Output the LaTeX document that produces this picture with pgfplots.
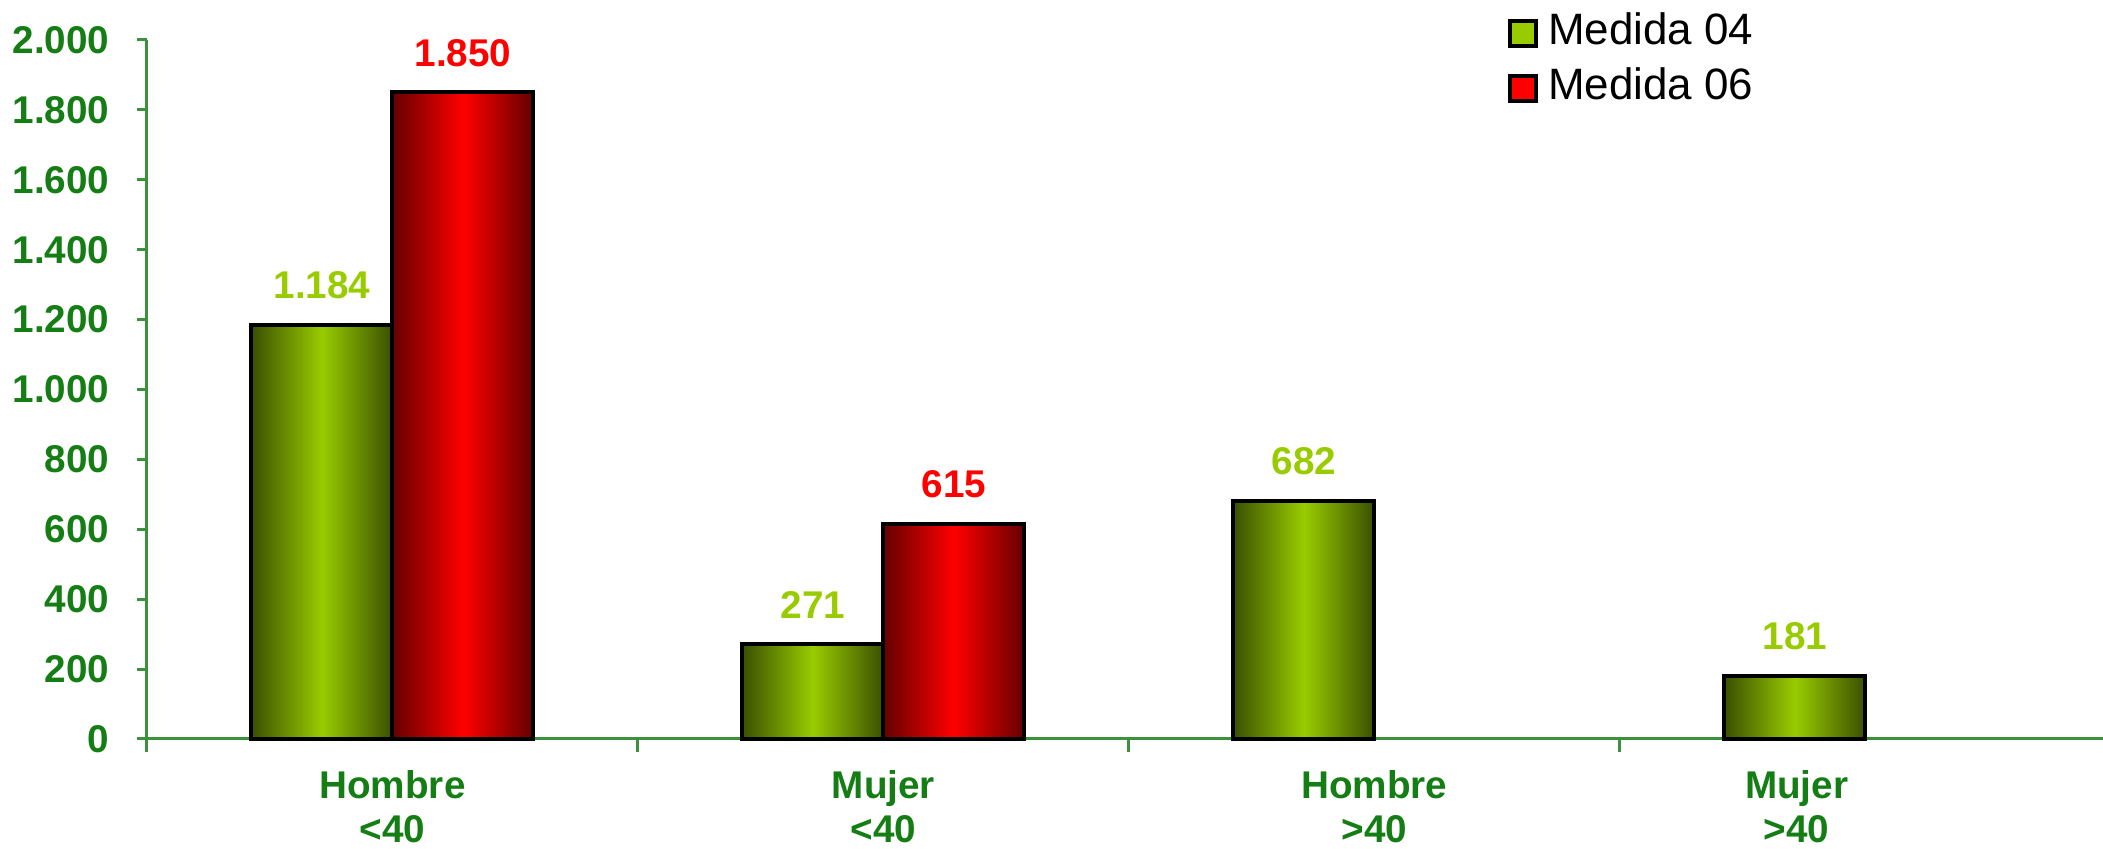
\documentclass[border=0pt]{standalone}
\usepackage{fontspec}
\setmainfont{Liberation Sans}
\usepackage{pgfplots}
\pgfplotsset{compat=1.18}

\definecolor{axisgreen}{RGB}{60,145,60}
\definecolor{labelgreen}{RGB}{20,125,20}
\definecolor{lightgreen}{RGB}{153,204,0}
\definecolor{darkolive}{RGB}{58,80,0}
\definecolor{darkred}{RGB}{100,0,0}

\tikzset{valuelabel/.style={font=\bfseries\fontsize{11}{12}\selectfont,
    anchor=south, inner sep=0pt, yshift=2.4mm}}

\pgfplotsset{
    % Medida 04, one plot per bar so that each bar gets its own shading
    gbar/.style={ybar, forget plot, bar width=14.1mm, bar shift=-7.05mm,
        draw=black, line width=0.4mm,
        left color=darkolive, right color=darkolive, middle color=lightgreen,
        nodes near coords,
        nodes near coords style={valuelabel, text=lightgreen, xshift=-7.05mm}},
    % Medida 06
    rbar/.style={ybar, forget plot, bar width=14.1mm, bar shift=7.05mm,
        draw=black, line width=0.4mm,
        left color=darkred, right color=darkred, middle color=red,
        nodes near coords,
        nodes near coords style={valuelabel, text=red, xshift=7.05mm}},
}

\begin{document}
\begin{tikzpicture}
\begin{axis}[
    at={(0,0)}, anchor=south west,
    scale only axis,
    width=195.6mm, height=69.9mm,
    xmin=-0.5, xmax=3.484,
    ymin=0, ymax=2000,
    axis x line*=bottom, axis y line*=left,
    axis line style={draw=axisgreen, line width=0.3mm},
    ytick={0,200,...,2000},
    xtick={0,1,2,2.86},
    xticklabels={{Hombre\\<40},{Mujer\\<40},{Hombre\\>40},{Mujer\\>40}},
    minor xtick={-0.5,0.5,1.5,2.5},
    tick align=outside,
    major tick length=1mm, minor tick length=1.3mm,
    major x tick style={draw=none},
    every tick/.style={draw=axisgreen, line width=0.3mm},
    /pgf/number format/1000 sep={.},
    /pgf/number format/assume math mode=true,
    ticklabel style={text=labelgreen, font=\bfseries\fontsize{11}{12.6}\selectfont},
    xticklabel style={align=center, inner sep=0pt},
    xticklabel shift=2.1mm,
    yticklabel style={inner sep=0pt},
    yticklabel shift=2.7mm,
    legend style={draw=none, fill=none, inner sep=0pt, outer sep=0pt,
        at={(0.6958,1.048)}, anchor=north west,
        font=\fontsize{12.5}{12.5}\selectfont,
        nodes={inner sep=1.3pt, text height=9.5pt, text depth=3.5pt}},
    legend cell align=left,
    legend image code/.code={\draw[#1, draw=black, line width=0.4mm] (0mm,-1.25mm) rectangle (2.6mm,1.25mm);
        \path (3.3mm,0mm);},
    clip=false,
]

\addplot[gbar] coordinates {(0,1184)};
\addplot[gbar] coordinates {(1,271)};
\addplot[gbar] coordinates {(2,682)};
\addplot[gbar] coordinates {(3,181)};

\addplot[rbar] coordinates {(0,1850)};
\addplot[rbar] coordinates {(1,615)};

\addlegendimage{fill=lightgreen}
\addlegendentry{Medida 04}
\addlegendimage{fill=red}
\addlegendentry{Medida 06}

\end{axis}
\pgfresetboundingbox
\path[use as bounding box] (-14.7mm,-11.0mm) rectangle (195.6mm,73.9mm);
\end{tikzpicture}
\end{document}
